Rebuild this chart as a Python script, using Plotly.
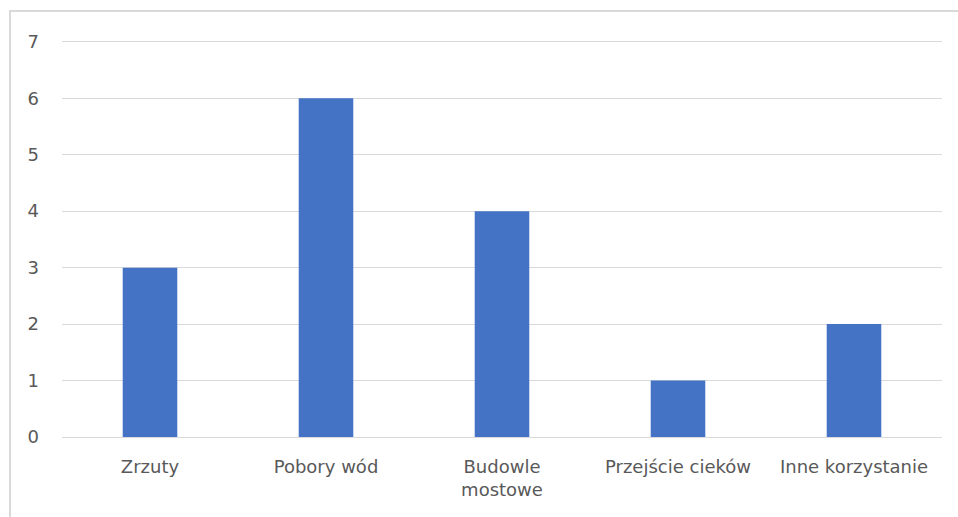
import plotly.graph_objects as go

categories = ["Zrzuty", "Pobory wód", "Budowle<br>mostowe", "Przejście cieków", "Inne korzystanie"]
values = [3, 6, 4, 1, 2]
y_ticks = [0, 1, 2, 3, 4, 5, 6, 7]
y_max = 7.05

W, H = 958, 517
L, R, T, B = 62, 16, 39, 80
pw, ph = W - L - R, H - T - B


def px_x(x):
    return (x - L) / pw


def px_y(y):
    return (H - B - y) / ph


label_font = dict(family="DejaVu Sans, sans-serif", size=18, color="#595959")

fig = go.Figure(go.Bar(x=categories, y=values, marker=dict(color="#4472C4", line=dict(width=0))))

fig.update_layout(
    width=W, height=H,
    margin=dict(l=L, r=R, t=T, b=B),
    paper_bgcolor="white", plot_bgcolor="white",
    bargap=0.69,
    showlegend=False,
    font=label_font,
    xaxis=dict(showgrid=False, showline=False, ticks="", ticklabelstandoff=17, tickfont=label_font),
    yaxis=dict(range=[0, y_max], tickvals=y_ticks, showgrid=True, gridcolor="#d9d9d9", gridwidth=1,
               zeroline=True, zerolinecolor="#d9d9d9", zerolinewidth=1, showline=False,
               ticks="", ticklabelstandoff=22, tickfont=label_font),
    shapes=[dict(type="path", xref="paper", yref="paper",
                 path=f"M {px_x(10)} {px_y(517)} L {px_x(10)} {px_y(11)} L {px_x(960)} {px_y(11)}",
                 line=dict(color="#d9d9d9", width=2))],
)

fig.write_html("out.html")
